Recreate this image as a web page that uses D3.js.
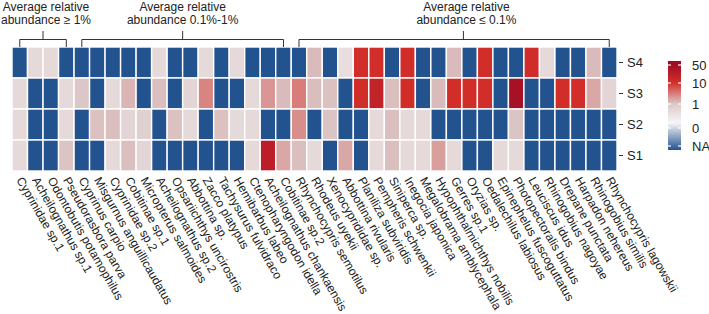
<!DOCTYPE html>
<html>
<head>
<meta charset="utf-8">
<script src="https://cdn.jsdelivr.net/npm/d3@7"></script>
<style>
  body { margin: 0; background: #fff; }
  text { font-family: 'Liberation Sans', Arial, Helvetica, sans-serif; fill: #222; }
</style>
</head>
<body>
<svg id="chart" width="709" height="314"></svg>
<script>
// species on the x axis, left to right
const species = [
  'Cyprinidae sp.1', 'Acheilognathus sp.1', 'Odontobutis potamophilus', 'Pseudorasbora parva',
  'Cyprinus carpio', 'Misgurnus anguillicaudatus', 'Cyprinidae sp.2', 'Cobitinae sp.1',
  'Micropterus salmoides', 'Acheilognathus sp.2', 'Opsariichthys uncirostris', 'Abbottina sp.',
  'Zacco platypus', 'Tachysurus fulvidraco', 'Hemibarbus labeo', 'Ctenopharyngodon idella',
  'Acheilognathus chankaensis', 'Cobitinae sp.2', 'Rhynchocypris semotilus', 'Rhodeus uyekii',
  'Xenocyprididae sp.', 'Abbottina rivularis', 'Planiliza subviridis', 'Pempheris schwenkii',
  'Siniperca sp.', 'Inegocia japonica', 'Megalobrama amblycephala', 'Hypophthalmichthys nobilis',
  'Gerres sp.1', 'Oryzias sp.', 'Oedalechilus labiosus', 'Epinephelus fuscoguttatus',
  'Photopectoralis bindus', 'Leuciscus idus', 'Rhinogobius nagoyae', 'Drepane punctata',
  'Harpadon nehereus', 'Rhinogobius similis', 'Rhynchocypris lagowskii'
];
const sites = ['S4', 'S3', 'S2', 'S1'];

// null = NA
const S4 = [null, 0.6, 0.6, null, null, null, null, null, null, 0.6, null, null, 0.6, null, 0.6, null, null, null, null, 1.8,
  null, 0.5, 12, 12, null, 12, null, null, 1.8, null, 12, null, null, 14, 0.6, null, null, 1.8, null];
const S3 = [0.6, null, null, 0.6, 1.1, null, 0.6, 2.2, null, 1.6, null, 0.7, 5, null, null, 0.6, 4, 1.8, 5.5, 1.7,
  1.5, null, 12, 25, 1.6, 12, null, 1.8, 12, 12, 12, null, 45, null, null, 12, 12, 3, 0.7];
const S2 = [0.6, null, null, 0.6, null, 1.5, 1.6, 0.7, 0.8, null, 1.5, 0.6, null, 1.5, 0.6, 0.6, null, null, 4.5, null,
  1.3, null, null, 0.6, 1.6, 0.6, 0.6, null, null, null, null, null, 1.3, null, null, null, null, null, null];
const S1 = [0.6, null, null, 1.3, null, null, 0.6, 1.6, 0.7, null, null, null, null, null, null, 0.6, 30, 3, 1.6, 0.6,
  null, 3, null, 0.6, 1.6, 0.6, 0.6, 3.5, 0.6, null, null, 0.6, 0.6, null, null, null, null, null, null];

// abundance groups: label lines, first and last column, where the centre tick sits (in columns)
const groupLabels = [['Average relative', 'abundance \u2265 1%'], ['Average relative', 'abundance 0.1%-1%'], ['Average relative', 'abundance \u2264 0.1%']];
const groupFirst = [0, 4, 18];
const groupLast = [3, 17, 38];
const groupTick = [2.0, 11.0, 29.1];

const legendTicks = [50, 10, 1, 0, 'NA'];

const naColor = '#23538f';
const values = { S4, S3, S2, S1 };

let svg = d3.select('#chart');

let x = d3.scaleBand().domain(species).range([12, 617]);
let y = d3.scaleBand().domain(sites).range([47, 171]);

let color = d3.scaleLinear()
  .domain([0, 1, 10, 50])
  .range(['#f6f1f3', '#dbc9c9', '#d4302a', '#a10c25'])
  .clamp(true);

let cells = [];
sites.forEach(s => {
  values[s].forEach((v, i) => cells.push({ site: s, sp: species[i], v: v }));
});

// heatmap cells
svg.append('g').selectAll('rect')
  .data(cells)
  .enter().append('rect')
  .attr('x', d => x(d.sp))
  .attr('y', d => y(d.site))
  .attr('width', x.bandwidth())
  .attr('height', y.bandwidth())
  .attr('fill', d => d.v === null ? naColor : color(d.v))
  .attr('stroke', '#fff')
  .attr('stroke-width', 1.4);

// row axis on the right
let rowAxis = svg.append('g');
rowAxis.selectAll('line')
  .data(sites)
  .enter().append('line')
  .attr('x1', 619).attr('x2', 623)
  .attr('y1', d => y(d) + y.bandwidth() / 2)
  .attr('y2', d => y(d) + y.bandwidth() / 2)
  .attr('stroke', '#333');
rowAxis.selectAll('text')
  .data(sites)
  .enter().append('text')
  .attr('x', 627)
  .attr('y', d => y(d) + y.bandwidth() / 2)
  .attr('dy', '0.36em')
  .attr('font-size', 13)
  .text(d => d);

// rotated species labels
svg.append('g').selectAll('text')
  .data(species)
  .enter().append('text')
  .attr('transform', d => `translate(${x(d) + x.bandwidth() / 2},178) rotate(60)`)
  .attr('dy', '0.35em')
  .attr('font-size', 12)
  .text(d => d);

// group brackets
let bw = x.bandwidth();
let br = svg.append('g').attr('stroke', '#333').attr('stroke-width', 1).attr('fill', 'none');
groupLabels.forEach((lab, i) => {
  let x0 = x(species[groupFirst[i]]) + bw / 2;
  let x1 = x(species[groupLast[i]]) + bw / 2;
  let xm = x.range()[0] + groupTick[i] * bw;
  br.append('path').attr('d', `M${x0},47V39.5H${x1}V47`);
  br.append('line').attr('x1', xm).attr('x2', xm).attr('y1', 39.5).attr('y2', 31);
  lab.forEach((line, j) => {
    svg.append('text')
      .attr('text-anchor', 'middle')
      .attr('font-size', 12)
      .attr('x', xm + (i === 1 ? 0 : 3))
      .attr('y', 11.2 + j * 13)
      .text(line);
  });
});

// colour bar legend
let legY = d3.scaleLinear().domain([0, 1, 10, 50]).range([128, 104, 83, 65]);
let barTop = 61, barBottom = 150, barX = 668, barW = 13;
let naY = 146;
let grad = svg.append('defs').append('linearGradient')
  .attr('id', 'bar').attr('x1', 0).attr('x2', 0).attr('y1', 0).attr('y2', 1);
let stops = [[barTop, '#9a0a24'], [legY(50), color(50)], [legY(10), color(10)], [legY(1), color(1)],
  [legY(0) - 5, '#f7f6f8'], [barBottom, naColor]];
grad.selectAll('stop')
  .data(stops)
  .enter().append('stop')
  .attr('offset', d => (d[0] - barTop) / (barBottom - barTop))
  .attr('stop-color', d => d[1]);

svg.append('rect')
  .attr('x', barX).attr('y', barTop)
  .attr('width', barW).attr('height', barBottom - barTop)
  .attr('fill', 'url(#bar)');

let tickPos = d => d === 'NA' ? naY : legY(d);
let lt = svg.append('g');
legendTicks.forEach(t => {
  let ty = tickPos(t);
  lt.append('line').attr('x1', barX).attr('x2', barX + 3).attr('y1', ty).attr('y2', ty)
    .attr('stroke', '#fff').attr('stroke-width', 1.2);
  lt.append('line').attr('x1', barX + barW - 3).attr('x2', barX + barW).attr('y1', ty).attr('y2', ty)
    .attr('stroke', '#fff').attr('stroke-width', 1.2);
  lt.append('text')
    .attr('x', 692).attr('y', ty).attr('dy', '0.36em')
    .attr('font-size', 13)
    .text(t);
});
</script>
</body>
</html>
